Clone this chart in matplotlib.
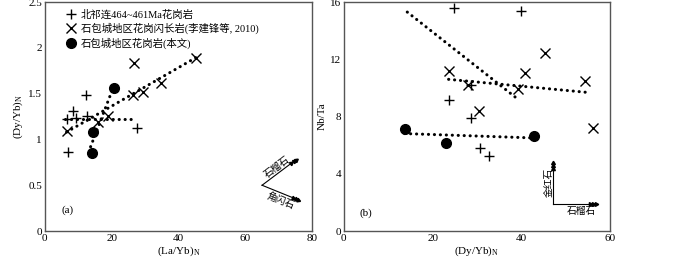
import numpy as np
import matplotlib
matplotlib.use("Agg")
import matplotlib.pyplot as plt

plt.rcParams['font.family'] = ['Liberation Serif', 'Noto Sans CJK SC']
plt.rcParams['mathtext.fontset'] = 'stix'

# ---------------- DATA ----------------
# panel (a): (La/Yb)N vs (Dy/Yb)N
a_plus_x = [6.5, 8.3, 9.3, 12.3, 12.7, 6.8, 27.5]
a_plus_y = [1.22, 1.31, 1.23, 1.49, 1.26, 0.86, 1.12]
a_x_x = [6.5, 26.7, 45.3, 34.8, 29.3, 26.3, 19.0, 15.8]
a_x_y = [1.09, 1.84, 1.89, 1.62, 1.52, 1.48, 1.26, 1.19]
a_dot_x = [20.6, 14.3, 14.2]
a_dot_y = [1.56, 1.08, 0.85]
a_trend_plus = ([6.0, 26.5], [1.22, 1.22])
a_trend_x = ([6.5, 45.5], [1.08, 1.90])
a_trend_dot = ([13.7, 20.3], [0.92, 1.55])

# panel (b): (Dy/Yb)N vs Nb/Ta
b_plus_x = [24.8, 39.8, 23.6, 28.7, 28.7, 30.7, 32.8]
b_plus_y = [15.6, 15.35, 9.14, 10.23, 7.9, 5.81, 5.26]
b_x_x = [23.6, 27.9, 30.4, 39.3, 40.8, 45.2, 54.2, 56.0]
b_x_y = [11.2, 10.19, 8.37, 9.95, 11.05, 12.47, 10.47, 7.21]
b_dot_x = [13.7, 23.1, 42.7]
b_dot_y = [7.16, 6.12, 6.65]
b_trend_plus = ([14.3, 39.2], [15.3, 9.21])
b_trend_x = ([23.6, 55.4], [10.6, 9.67])
b_trend_dot = ([13.7, 42.3], [6.81, 6.51])

legend_labels = ['北祁连464~461Ma花岗岩',
                 '石包城地区花岗闪长岩(李建锋等, 2010)',
                 '石包城地区花岗岩(本文)']
# --------------------------------------

fig = plt.figure(figsize=(7.0, 2.57), dpi=100)
ax1 = fig.add_axes([0.064, 0.101, 0.382, 0.891])
ax2 = fig.add_axes([0.491, 0.101, 0.381, 0.891])

dot_kw = dict(color='black', linestyle=(0, (0.05, 1.9)), lw=2.2, dash_capstyle='round')
plus_kw = dict(marker='+', color='black', ms=7.5, mew=1.0, linestyle='none')
x_kw = dict(marker='x', color='black', ms=6.5, mew=1.0, linestyle='none')
o_kw = dict(marker='o', color='black', ms=7, linestyle='none')


def triple_arrow(ax, x0, y0, x1, y1):
    ax.plot([x0, x1], [y0, y1], color='black', lw=0.8)
    p0 = ax.transData.transform((x0, y0))
    p1 = ax.transData.transform((x1, y1))
    ang = np.degrees(np.arctan2(p1[1] - p0[1], p1[0] - p0[0]))
    for f in [1.0, 0.93, 0.86]:
        ax.plot(x0 + f * (x1 - x0), y0 + f * (y1 - y0), marker=(3, 0, ang - 90),
                ms=3.2, color='black', linestyle='none')


# panel (a)
ax1.plot(*a_trend_plus, **dot_kw)
ax1.plot(*a_trend_x, **dot_kw)
ax1.plot(*a_trend_dot, **dot_kw)
ax1.plot(a_plus_x, a_plus_y, label=legend_labels[0], **plus_kw)
ax1.plot(a_x_x, a_x_y, label=legend_labels[1], **x_kw)
ax1.plot(a_dot_x, a_dot_y, label=legend_labels[2], **o_kw)
ax1.set_xlim(0, 80)
ax1.set_ylim(0, 2.5)
ax1.set_xticks([0, 20, 40, 60, 80])
ax1.set_yticks([0, 0.5, 1, 1.5, 2, 2.5])
ax1.set_yticklabels(['0', '0.5', '1', '1.5', '2', '2.5'])
ax1.set_xlabel('(La/Yb)$_\\mathregular{N}$', fontsize=8, labelpad=1)
ax1.set_ylabel('(Dy/Yb)$_\\mathregular{N}$', fontsize=8, labelpad=2)
ax1.text(5, 0.2, '(a)', fontsize=8)
ax1.legend(loc='upper left', frameon=False, fontsize=7.5, handletextpad=0.5,
           borderaxespad=0.3, labelspacing=0.3, handlelength=1.0,
           bbox_to_anchor=(0.05, 1.0))

triple_arrow(ax1, 65, 0.50, 75.2, 0.78)
triple_arrow(ax1, 65, 0.50, 75.8, 0.34)
ax1.text(69.5, 0.70, '石榴石', fontsize=7, rotation=37, ha='center', va='center')
ax1.text(70.5, 0.33, '角闪石', fontsize=7, rotation=-22, ha='center', va='center')

# panel (b)
ax2.plot(*b_trend_plus, **dot_kw)
ax2.plot(*b_trend_x, **dot_kw)
ax2.plot(*b_trend_dot, **dot_kw)
ax2.plot(b_plus_x, b_plus_y, **plus_kw)
ax2.plot(b_x_x, b_x_y, **x_kw)
ax2.plot(b_dot_x, b_dot_y, **o_kw)
ax2.set_xlim(0, 60)
ax2.set_ylim(0, 16)
ax2.set_xticks([0, 20, 40, 60])
ax2.set_yticks([0, 4, 8, 12, 16])
ax2.set_xlabel('(Dy/Yb)$_\\mathregular{N}$', fontsize=8, labelpad=1)
ax2.set_ylabel('Nb/Ta', fontsize=8, labelpad=2)
ax2.text(3.6, 1.1, '(b)', fontsize=8)

triple_arrow(ax2, 47, 1.88, 47, 4.75)
triple_arrow(ax2, 47, 1.88, 56.8, 1.88)
ax2.text(46.2, 3.4, '金红石', fontsize=7, rotation=90, ha='center', va='center')
ax2.text(53.5, 1.35, '石榴石', fontsize=7, ha='center', va='center')

for ax in (ax1, ax2):
    ax.tick_params(length=0, labelsize=8, pad=2)
    for s in ax.spines.values():
        s.set_color('#555555')
        s.set_linewidth(1.0)

fig.savefig('out.png', dpi=100)
